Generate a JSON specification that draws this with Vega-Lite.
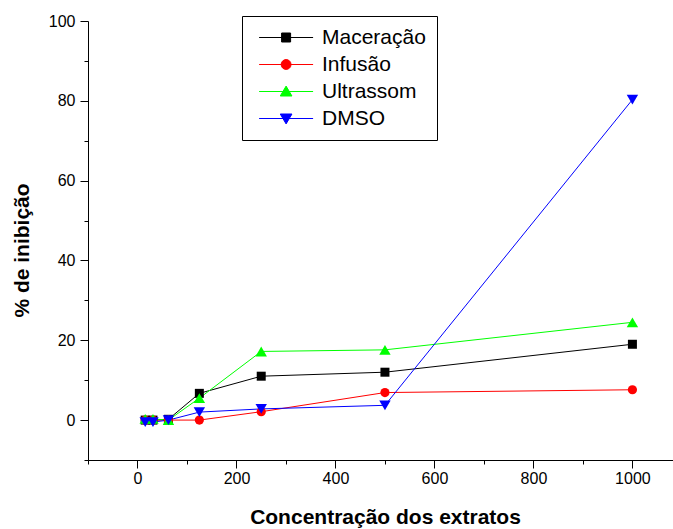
{
  "$schema": "https://vega.github.io/schema/vega-lite/v6.json",
  "width": 585,
  "height": 439,
  "autosize": {"type": "none"},
  "padding": {"left": 88, "top": 21, "right": 0, "bottom": 69},
  "background": "white",
  "config": {
    "view": {"stroke": null},
    "font": "Liberation Sans",
    "axis": {
      "domainColor": "black",
      "domainWidth": 1,
      "tickColor": "black",
      "tickWidth": 1,
      "labelColor": "black",
      "titleColor": "black",
      "labelFont": "Liberation Sans",
      "titleFont": "Liberation Sans",
      "labelFontSize": 16,
      "titleFontSize": 21,
      "titleFontWeight": "bold",
      "grid": false
    }
  },
  "data": {
    "values": [
      {"x": 15.6, "y": 0, "s": "Maceração"},
      {"x": 31.25, "y": 0, "s": "Maceração"},
      {"x": 62.5, "y": 0.2, "s": "Maceração"},
      {"x": 125, "y": 6.7, "s": "Maceração"},
      {"x": 250, "y": 11, "s": "Maceração"},
      {"x": 500, "y": 12, "s": "Maceração"},
      {"x": 1000, "y": 19, "s": "Maceração"},
      {"x": 15.6, "y": 0, "s": "Infusão"},
      {"x": 31.25, "y": 0, "s": "Infusão"},
      {"x": 62.5, "y": 0, "s": "Infusão"},
      {"x": 125, "y": 0, "s": "Infusão"},
      {"x": 250, "y": 2.1, "s": "Infusão"},
      {"x": 500, "y": 6.9, "s": "Infusão"},
      {"x": 1000, "y": 7.6, "s": "Infusão"},
      {"x": 15.6, "y": 0.3, "s": "Ultrassom"},
      {"x": 31.25, "y": 0.3, "s": "Ultrassom"},
      {"x": 62.5, "y": 0, "s": "Ultrassom"},
      {"x": 125, "y": 5.5, "s": "Ultrassom"},
      {"x": 250, "y": 17.2, "s": "Ultrassom"},
      {"x": 500, "y": 17.6, "s": "Ultrassom"},
      {"x": 1000, "y": 24.5, "s": "Ultrassom"},
      {"x": 15.6, "y": -0.5, "s": "DMSO"},
      {"x": 31.25, "y": -0.5, "s": "DMSO"},
      {"x": 62.5, "y": 0, "s": "DMSO"},
      {"x": 125, "y": 2, "s": "DMSO"},
      {"x": 250, "y": 2.8, "s": "DMSO"},
      {"x": 500, "y": 3.7, "s": "DMSO"},
      {"x": 1000, "y": 80.3, "s": "DMSO"}
    ]
  },
  "encoding": {
    "x": {
      "field": "x",
      "type": "quantitative",
      "scale": {"domain": [-100, 1082], "nice": false, "zero": false},
      "axis": {
        "title": "Concentração dos extratos",
        "values": [-100, 0, 100, 200, 300, 400, 500, 600, 700, 800, 900, 1000],
        "format": "d",
        "labelExpr": "datum.value % 200 === 0 ? datum.label : ''",
        "tickSize": {"condition": {"test": "datum.value % 200 === 0", "value": 8}, "value": 4},
        "labelPadding": 2,
        "labelFlush": false,
        "labelOverlap": false,
        "titleX": 297,
        "titleY": 57,
        "titleBaseline": "middle",
        "titleAnchor": "middle"
      }
    },
    "y": {
      "field": "y",
      "type": "quantitative",
      "scale": {"domain": [-10, 100], "nice": false, "zero": false},
      "axis": {
        "title": "% de inibição",
        "values": [-10, 0, 10, 20, 30, 40, 50, 60, 70, 80, 90, 100],
        "format": "d",
        "labelExpr": "datum.value % 20 === 0 ? datum.label : ''",
        "tickSize": {"condition": {"test": "datum.value % 20 === 0", "value": 8}, "value": 4},
        "labelPadding": 5,
        "labelFlush": false,
        "labelOverlap": false,
        "titleX": -66,
        "titleY": 229,
        "titleAngle": -90,
        "titleBaseline": "middle",
        "titleAnchor": "middle"
      }
    }
  },
  "layer": [
    {
      "transform": [{"filter": "datum.s === 'Maceração'"}],
      "mark": {"type": "line", "strokeWidth": 1, "color": "#000000"},
      "encoding": {}
    },
    {
      "transform": [{"filter": "datum.s === 'Infusão'"}],
      "mark": {"type": "line", "strokeWidth": 1, "color": "#ff0000"},
      "encoding": {}
    },
    {
      "transform": [{"filter": "datum.s === 'Ultrassom'"}],
      "mark": {"type": "line", "strokeWidth": 1, "color": "#00ff00"},
      "encoding": {}
    },
    {
      "transform": [{"filter": "datum.s === 'DMSO'"}],
      "mark": {"type": "line", "strokeWidth": 1, "color": "#0000ff"},
      "encoding": {}
    },
    {
      "transform": [{"filter": "datum.s === 'Maceração'"}],
      "mark": {"type": "point", "shape": "square", "filled": true, "size": 81, "color": "#000000", "opacity": 1}
    },
    {
      "transform": [{"filter": "datum.s === 'Infusão'"}],
      "mark": {"type": "point", "shape": "circle", "filled": true, "size": 85, "color": "#ff0000", "opacity": 1}
    },
    {
      "transform": [{"filter": "datum.s === 'Ultrassom'"}],
      "mark": {"type": "point", "shape": "triangle-up", "filled": true, "size": 130, "color": "#00ff00", "opacity": 1}
    },
    {
      "transform": [{"filter": "datum.s === 'DMSO'"}],
      "mark": {"type": "point", "shape": "triangle-down", "filled": true, "size": 130, "color": "#0000ff", "opacity": 1}
    },
    {
      "mark": {"type": "point", "filled": true, "opacity": 0},
      "encoding": {
        "color": {
          "field": "s",
          "type": "nominal",
          "scale": {"domain": ["Maceração", "Infusão", "Ultrassom", "DMSO"], "range": ["#000000", "#ff0000", "#00ff00", "#0000ff"]},
          "legend": {
            "title": null,
            "orient": "none",
            "legendX": 154,
            "legendY": -5,
            "padding": 11,
            "strokeColor": "black",
            "fillColor": "white",
            "symbolSize": 324,
            "symbolStrokeWidth": 1,
            "symbolOpacity": 1,
            "symbolOffset": 1,
            "labelOffset": 47,
            "labelFontSize": 21,
            "labelFont": "Liberation Sans",
            "labelColor": "black",
            "labelLimit": 300,
            "rowPadding": 5,
            "encode": {"symbols": {"update": {"stroke": {"scale": "color", "field": "value"}, "fill": {"scale": "color", "field": "value"}, "opacity": {"value": 1}, "strokeWidth": {"value": 1}}}}
          }
        },
        "shape": {
          "field": "s",
          "type": "nominal",
          "scale": {
            "domain": ["Maceração", "Infusão", "Ultrassom", "DMSO"],
            "range": [
              "M-0.6,0H5.4M1.9,-0.5H2.9V0.5H1.9Z",
              "M-0.6,0H5.4M2.95,0A0.55,0.55,0,1,1,1.85,0A0.55,0.55,0,1,1,2.95,0Z",
              "M-0.6,0H5.4M2.4,-0.6L3.05,0.5H1.75Z",
              "M-0.6,0H5.4M2.4,0.6L3.05,-0.5H1.75Z"
            ]
          },
          "legend": {
            "title": null,
            "orient": "none",
            "legendX": 154,
            "legendY": -5,
            "padding": 11,
            "strokeColor": "black",
            "fillColor": "white",
            "symbolSize": 324,
            "symbolStrokeWidth": 1,
            "symbolOpacity": 1,
            "symbolOffset": 1,
            "labelOffset": 47,
            "labelFontSize": 21,
            "labelFont": "Liberation Sans",
            "labelColor": "black",
            "labelLimit": 300,
            "rowPadding": 5,
            "encode": {"symbols": {"update": {"stroke": {"scale": "color", "field": "value"}, "fill": {"scale": "color", "field": "value"}, "opacity": {"value": 1}, "strokeWidth": {"value": 1}}}}
          }
        }
      }
    }
  ]
}
